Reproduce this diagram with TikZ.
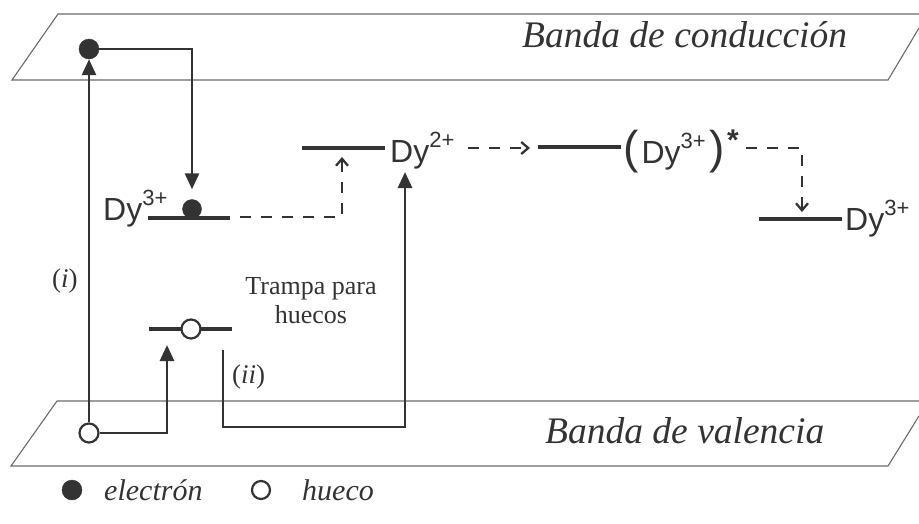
\documentclass[tikz,border=0pt]{standalone}
\usepackage{fontspec}
\setmainfont{Liberation Serif}
\setsansfont{Liberation Sans}
\usetikzlibrary{arrows.meta}
\definecolor{ink}{HTML}{333333}
\definecolor{band}{HTML}{6A6A6A}
\newcommand{\DyIon}[1]{{\sffamily\fontsize{32}{34}\selectfont Dy\raisebox{15pt}{\fontsize{22}{24}\selectfont #1}}}
\begin{document}
\begin{tikzpicture}[x=1pt,y=-1pt,
  bandline/.style={draw=band,line width=1.1pt},
  bandtext/.style={font=\itshape\fontsize{37.5}{40}\selectfont,text=ink,anchor=base west,inner sep=0pt},
  level/.style={draw=ink,line width=4.2pt},
  solidarr/.style={draw=ink,line width=2.8pt,-{Triangle[length=16pt,width=14pt]}},
  dasharr/.style={draw=ink,line width=2.5pt,dash pattern=on 11pt off 10pt,-{Straight Barb[length=7pt,width=12pt,line width=2.3pt]}},
  fullc/.style={circle,fill=ink,draw=ink,minimum size=20pt,inner sep=0pt},
  openc/.style={circle,fill=white,draw=ink,line width=2.2pt,minimum size=19pt,inner sep=0pt},
  lbl/.style={text=ink,inner sep=0pt,anchor=base west}]
\useasboundingbox (0,0) rectangle (919,523);
% bands
\draw[bandline] (919,14) -- (58,14) -- (12,80) -- (888,80) -- (919,28);
\draw[bandline] (919,401) -- (57,401) -- (11,466) -- (888,466) -- (919,416);
\node[bandtext] (cb) at (522,47) {Banda de conducción};
\node[bandtext] (vb) at (545,443) {Banda de valencia};
% levels
\coordinate (l1a) at (148,218); \coordinate (l1b) at (230,218);
\coordinate (l2a) at (302,148); \coordinate (l2b) at (385,148);
\coordinate (l3a) at (538,147); \coordinate (l3b) at (621,147);
\coordinate (l4a) at (759,219); \coordinate (l4b) at (842,219);
\coordinate (tra) at (149,329); \coordinate (trb) at (232,329);
\draw[level] (l1a) -- (l1b);
\draw[level] (l2a) -- (l2b);
\draw[level] (l3a) -- (l3b);
\draw[level] (l4a) -- (l4b);
\draw[level] (tra) -- (trb);
% ion labels
\node[lbl] (dy1) at (103,220) {\DyIon{3+}};
\node[lbl] (dy2) at (390,162) {\DyIon{2+}};
\node[lbl] (dy3) at (623,163) {{\sffamily\fontsize{46}{46}\selectfont(}\hspace{3pt}\DyIon{3+}\hspace{4pt}{\sffamily\fontsize{46}{46}\selectfont)}\hspace{2pt}\raisebox{13pt}{\sffamily\bfseries\fontsize{30}{30}\selectfont *}};
\node[lbl] (dy4) at (845,230) {\DyIon{3+}};
% carriers
\node[fullc] (e1) at (89,49) {};
\node[fullc,minimum size=19pt] (e2) at (192,209) {};
\node[openc] (h1) at (89,433) {};
\node[openc] (h2) at (191,329) {};
% solid arrows
\coordinate (tip3) at (167,345);
\coordinate (ii0) at (223,350);
\coordinate (tip4) at (405,172);
\draw[solidarr] (h1) -- (e1);
\draw[solidarr,shorten >=10pt] (e1) -| (e2);
\draw[solidarr] (h1) -| (tip3);
\draw[solidarr] (ii0) |- (223,427) -| (tip4);
% dashed arrows
\coordinate (d1a) at (240,217); \coordinate (d1t) at (342,157);
\draw[dasharr] (d1a) -| (d1t);
\coordinate (d2a) at (468,148); \coordinate (d2t) at (530,148);
\draw[dasharr] (d2a) -- (d2t);
\coordinate (d3a) at (746,148); \coordinate (d3t) at (802,212);
\draw[dasharr] (d3a) -| (d3t);
% text labels
\node[text=ink,align=center,font=\fontsize{26}{29}\selectfont,anchor=base] (trap) at (311,323) {Trampa para\\huecos};
\node[lbl,font=\fontsize{27}{29}\selectfont] (li) at (52,287) {(\textit{i})};
\node[lbl,font=\fontsize{27}{29}\selectfont] (lii) at (232,383) {(\textit{ii})};
% legend
\node[fullc,minimum size=20pt] (lege) at (72,490) {};
\node[lbl,font=\itshape\fontsize{30}{31}\selectfont] (lete) at (104,500) {electrón};
\node[openc,minimum size=18pt] (legh) at (261,490) {};
\node[lbl,font=\itshape\fontsize{30}{31}\selectfont] (leth) at (302,500) {hueco};
\end{tikzpicture}
\end{document}
